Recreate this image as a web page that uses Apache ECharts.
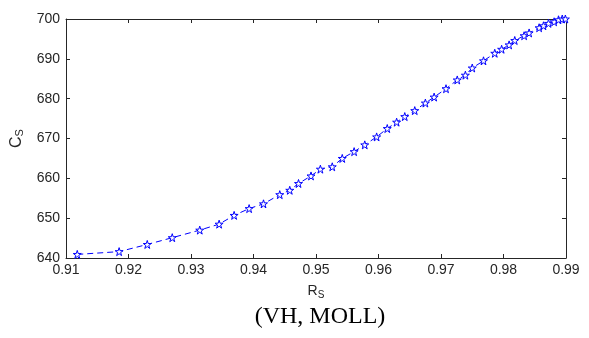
<!DOCTYPE html>
<html>
<head>
<meta charset="utf-8">
<script src="https://cdn.jsdelivr.net/npm/echarts@6/dist/echarts.min.js"></script>
<style>
html,body{margin:0;padding:0;background:#fff;}
#chart{width:589px;height:338px;}
</style>
</head>
<body>
<div id="chart"></div>
<script>
var rsValues = [0.9118,0.9185,0.9230,0.9270,0.9314,0.9345,0.9369,0.9393,0.9416,0.9442,
  0.9458,0.9472,0.9492,0.9507,0.9526,0.9542,0.9561,0.9578,0.9597,0.9614,
  0.9629,0.9642,0.9658,0.9675,0.9689,0.9708,0.9726,0.9739,0.9750,0.9768,
  0.9786,0.9797,0.9809,0.9818,0.9833,0.9841,0.9857,0.9864,0.9872,0.9881,
  0.9888,0.9894,0.9899];
var csValues = [640.9,641.6,643.4,645.1,647.0,648.5,650.7,652.4,653.6,655.9,
  657.0,658.7,660.6,662.3,662.9,665.0,666.7,668.4,670.4,672.5,
  674.1,675.5,677.0,678.9,680.4,682.5,684.7,685.9,687.7,689.5,
  691.4,692.4,693.5,694.6,695.8,696.5,697.8,698.3,698.9,699.3,
  699.8,700.0,700.0];
var xTicks = [0.91,0.92,0.93,0.94,0.95,0.96,0.97,0.98,0.99];
var yTicks = [640,650,660,670,680,690,700];
var caption = '(VH, MOLL)';

var pts = rsValues.map(function(x,i){return [x, csValues[i]];});
var star = 'path://M50,0 L61.23,34.55 L97.55,34.55 L68.16,55.9 L79.39,90.45 L50,69.1 L20.61,90.45 L31.84,55.9 L2.45,34.55 L38.77,34.55 Z';
var axisCol = '#262626';
var lbl = {color:axisCol, fontFamily:'Liberation Sans, Arial, sans-serif', fontSize:14};

var chart = echarts.init(document.getElementById('chart'), null, {renderer:'canvas'});
chart.setOption({
  animation:false,
  backgroundColor:'#fff',
  title:{
    text:caption, left:315, top:300, textAlign:'center',
    textStyle:{fontFamily:'Liberation Serif, Times New Roman, serif', fontSize:24, fontWeight:'normal', color:'#000'}
  },
  grid:{left:66, right:23, top:19, bottom:80, containLabel:false, show:false},
  xAxis:[{
    type:'value', min:xTicks[0], max:xTicks[xTicks.length-1], interval:0.01,
    name:'{m|R}{s|S}', nameLocation:'middle', nameGap:25,
    nameTextStyle:{rich:{m:{fontSize:14,color:axisCol,fontFamily:'Liberation Sans, Arial, sans-serif'},
      s:{fontSize:10,color:axisCol,fontFamily:'Liberation Sans, Arial, sans-serif',padding:[7,0,0,0]}}},
    axisLine:{show:true,onZero:false,lineStyle:{color:axisCol,width:1}},
    axisTick:{show:true,inside:true,length:4,lineStyle:{color:axisCol}},
    axisLabel:Object.assign({margin:5, formatter:function(v){return v.toFixed(2);}}, lbl),
    splitLine:{show:false}
  },{
    type:'value', position:'top', min:xTicks[0], max:xTicks[xTicks.length-1], interval:0.01,
    axisLine:{show:true,onZero:false,lineStyle:{color:axisCol,width:1}},
    axisTick:{show:true,inside:true,length:4,lineStyle:{color:axisCol}},
    axisLabel:{show:false}, splitLine:{show:false}
  }],
  yAxis:[{
    type:'value', min:yTicks[0], max:yTicks[yTicks.length-1], interval:10,
    name:'{m|C}{s|S}', nameLocation:'middle', nameGap:38, nameRotate:90,
    nameTextStyle:{rich:{m:{fontSize:16,color:axisCol,fontFamily:'Liberation Sans, Arial, sans-serif'},
      s:{fontSize:11,color:axisCol,fontFamily:'Liberation Sans, Arial, sans-serif',padding:[8,0,0,0]}}},
    axisLine:{show:true,onZero:false,lineStyle:{color:axisCol,width:1}},
    axisTick:{show:true,inside:true,length:4,lineStyle:{color:axisCol}},
    axisLabel:Object.assign({margin:6}, lbl),
    splitLine:{show:false}
  },{
    type:'value', position:'right', min:yTicks[0], max:yTicks[yTicks.length-1], interval:10,
    axisLine:{show:true,onZero:false,lineStyle:{color:axisCol,width:1}},
    axisTick:{show:true,inside:true,length:4,lineStyle:{color:axisCol}},
    axisLabel:{show:false}, splitLine:{show:false}
  }],
  series:[{
    type:'line', xAxisIndex:0, yAxisIndex:0, data:pts,
    symbol:star, symbolSize:8, showAllSymbol:true,
    lineStyle:{color:'#0000ff', width:1, type:[6,4]},
    itemStyle:{color:'#ffffff', borderColor:'#0000ff', borderWidth:1},
    clip:false
  }]
});
</script>
</body>
</html>
